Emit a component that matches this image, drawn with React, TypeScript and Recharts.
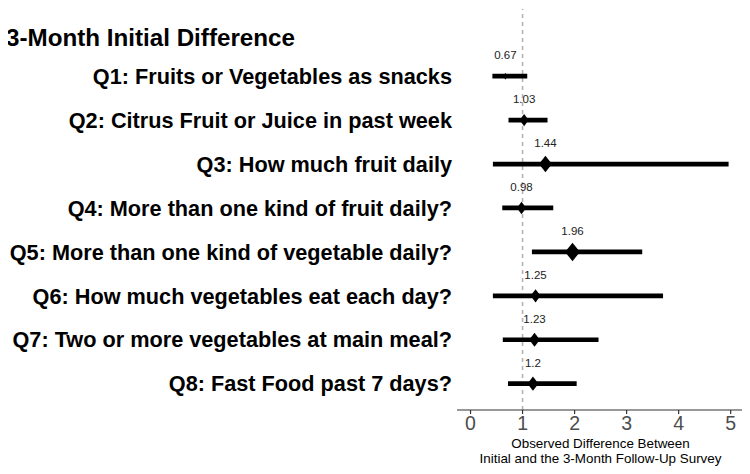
import React from 'react';
import { ScatterChart, Scatter, XAxis, YAxis, ReferenceLine } from 'recharts';

const questions = [
  'Q1: Fruits or Vegetables as snacks',
  'Q2: Citrus Fruit or Juice in past week',
  'Q3: How much fruit daily',
  'Q4: More than one kind of fruit daily?',
  'Q5: More than one kind of vegetable daily?',
  'Q6: How much vegetables eat each day?',
  'Q7: Two or more vegetables at main meal?',
  'Q8: Fast Food past 7 days?',
];
const estimates = [0.67, 1.03, 1.44, 0.98, 1.96, 1.25, 1.23, 1.2];
const lower = [0.42, 0.73, 0.43, 0.61, 1.18, 0.43, 0.62, 0.72];
const upper = [1.09, 1.48, 4.96, 1.59, 3.3, 3.7, 2.46, 2.04];
const weights = [1, 5, 10.5, 5.4, 14, 6.2, 7, 7.5];
const xTicks = [0, 1, 2, 3, 4, 5];
const rowTicks = [1, 2, 3, 4, 5, 6, 7, 8];

const FONT = '"Liberation Sans", Arial, sans-serif';

const rows = questions.map((q, i) => ({
  q,
  row: i + 1,
  est: estimates[i],
  lo: lower[i],
  hi: upper[i],
  w: weights[i],
}));

const Diamond = (props: any) => {
  const { cx, cy, payload } = props;
  const hw = 2 * Math.sqrt(payload.w);
  const hh = hw * 1.05 + 1.4;
  return (
    <g>
      <polygon
        points={`${cx},${cy - hh} ${cx + hw},${cy} ${cx},${cy + hh} ${cx - hw},${cy}`}
        fill='#000'
      />
      <text
        x={cx}
        y={cy - 16.7}
        textAnchor='middle'
        fontSize={11.5}
        fontFamily={FONT}
        fill='#222'>
        {payload.est}
      </text>
    </g>
  );
};

// two-line axis title under the x axis
const AxisTitle = (props: any) => {
  const vb = props.viewBox || {};
  const cx = vb.x + vb.width / 2;
  return (
    <g fontSize={13.4} fontFamily={FONT} fill='#000'>
      <text
        x={cx}
        y={vb.y + 37.5}
        textAnchor='middle'>
        Observed Difference Between
      </text>
      <text
        x={cx}
        y={vb.y + 52.5}
        textAnchor='middle'>
        Initial and the 3-Month Follow-Up Survey
      </text>
    </g>
  );
};

const App: React.FC = () => {
  return (
    <div style={{ position: 'relative', width: 750, height: 474, marginLeft: -8, marginTop: -8 }}>
      <div
        style={{
          position: 'absolute',
          left: 6,
          top: 26.3,
          fontFamily: FONT,
          fontWeight: 'bold',
          fontSize: 24.2,
          lineHeight: 1,
          color: '#000',
          whiteSpace: 'nowrap',
        }}>
        3-Month Initial Difference
      </div>
      <ScatterChart
        width={750}
        height={474}
        margin={{ top: 9, right: 6, bottom: 0, left: 0 }}>
        <XAxis
          type='number'
          dataKey='est'
          domain={[-0.26, 5.256]}
          ticks={xTicks}
          allowDataOverflow
          height={64}
          tickSize={4}
          tickMargin={2}
          axisLine={{ stroke: '#333', strokeWidth: 1.2 }}
          tickLine={{ stroke: '#333', strokeWidth: 1.2 }}
          tick={{ fontSize: 19.5, fill: '#4d4d4d', fontFamily: FONT }}
          label={{ content: AxisTitle }}
        />
        <YAxis
          type='number'
          dataKey='row'
          reversed
          domain={[-0.53, 8.6]}
          ticks={rowTicks}
          interval={0}
          allowDataOverflow
          width={457}
          axisLine={false}
          tickLine={false}
          tickSize={3}
          tickMargin={2}
          tickFormatter={(v: number) => questions[v - 1] ?? ''}
          tick={{ fontSize: 21.7, fontWeight: 'bold', fill: '#000', fontFamily: FONT }}
        />
        <ReferenceLine
          x={1}
          stroke='#b3b3b3'
          strokeWidth={1.6}
          strokeDasharray='4 4'
        />
        {rows.map((r) => (
          <ReferenceLine
            key={r.q}
            segment={[
              { x: r.lo, y: r.row },
              { x: r.hi, y: r.row },
            ]}
            stroke='#000'
            strokeWidth={4.7}
          />
        ))}
        <Scatter
          data={rows}
          shape={Diamond}
          isAnimationActive={false}
        />
      </ScatterChart>
    </div>
  );
};

export default App;
